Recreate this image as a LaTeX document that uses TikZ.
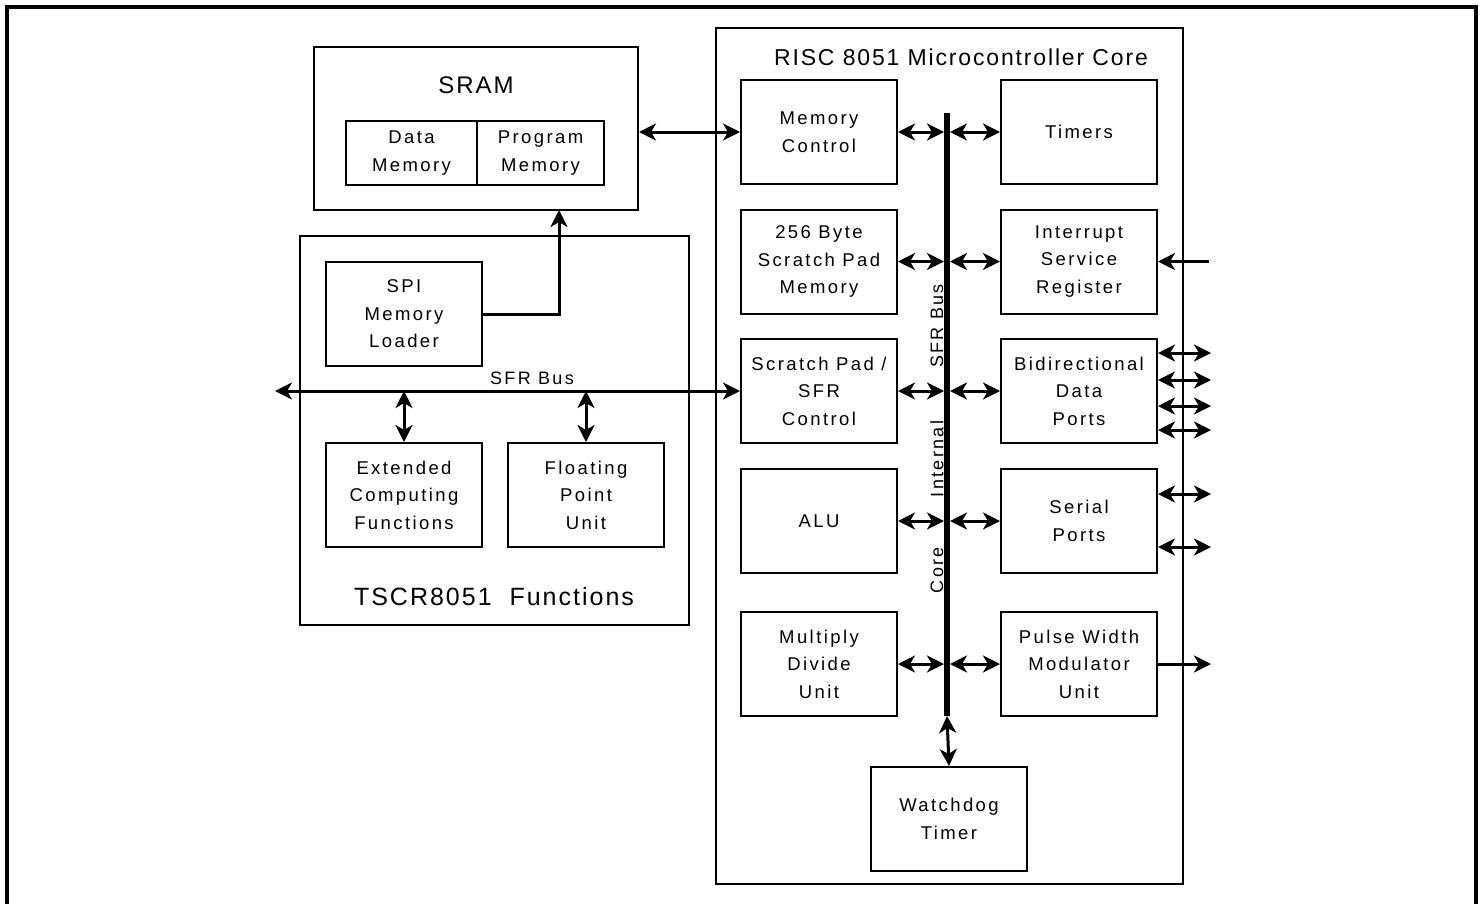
\documentclass[tikz,border=0pt]{standalone}
\usepackage{fontspec}
\usetikzlibrary{arrows.meta}
\newfontfamily\blockfont[LetterSpace=13]{Liberation Sans}
\newfontfamily\titlefont[LetterSpace=8]{Liberation Sans}

\tikzset{
    unit/.style={draw, line width=2pt, minimum width=156pt, minimum height=104pt,
        inner sep=0pt, align=center, font=\blockfont\fontsize{18.5}{27.5}\selectfont},
    label/.style={font=\blockfont\fontsize{18}{27.5}\selectfont},
    heading/.style={font=\titlefont\fontsize{23}{28}\selectfont},
    link/.style={line width=3pt, <->},
    feed/.style={line width=3pt, ->},
}

\begin{document}
\begin{tikzpicture}[x=1pt, y=-1pt, >={Stealth[length=17pt,width=17pt,inset=5pt]}]
    \useasboundingbox (0,0) rectangle (1481,903);
    % Outer frame, cut at the bottom
    \draw[line width=3.5pt] (7,930) -- (7,7) -- (1476,7) -- (1476,930);

    % SRAM block
    \node[draw, line width=2pt, minimum width=324pt, minimum height=163pt] (sram) at (476,128.5) {};
    \node[heading, font=\titlefont\fontsize{24}{28}\selectfont] (sramtitle) at (476,85) {SRAM};
    \node[unit, minimum width=131pt, minimum height=64pt] (dmem) at (411.5,153) {Data\\Memory};
    \node[unit, minimum width=127pt, minimum height=64pt] (pmem) at (540.5,153) {Program\\Memory};

    % TSCR8051 functions block
    \draw[line width=2pt] (300,236) rectangle (689,625);
    \node[heading, font=\titlefont\fontsize{25}{30}\selectfont] (tscr) at (494,597) {TSCR8051\ \ Functions};
    \node[unit] (spi) at (404,314) {SPI\\Memory\\Loader};
    \node[unit] (ext) at (404,495) {Extended\\Computing\\Functions};
    \node[unit] (fpu) at (586,495) {Floating\\Point\\Unit};

    % RISC core block
    \draw[line width=2.5pt] (716,28) rectangle (1183,884);
    \node[heading] (coretitle) at (961,57) {RISC 8051 Microcontroller Core};
    \foreach \n/\y/\ltxt/\rtxt in {
        1/132/{Memory\\Control}/{Timers},
        2/261.5/{256 Byte\\Scratch Pad\\Memory}/{Interrupt\\Service\\Register},
        3/391/{Scratch Pad /\\SFR\\Control}/{Bidirectional\\Data\\Ports},
        4/521/{ALU}/{Serial\\Ports},
        5/664/{Multiply\\Divide\\Unit}/{Pulse Width\\Modulator\\Unit}} {
        \node[unit] (L\n) at (819,\y) {\ltxt};
        \node[unit] (R\n) at (1079,\y) {\rtxt};
        % Taps onto the internal bus
        \coordinate (bl\n) at (944,\y);
        \coordinate (br\n) at (950,\y);
        \draw[link] (L\n.east) -- (bl\n);
        \draw[link] (br\n) -- (R\n.west);
    }

    % Core internal SFR bus
    \coordinate (bustop) at (947,113);
    \coordinate (busend) at (947,716);
    \draw[line width=6pt] (bustop) -- (busend);
    \node[label, rotate=90] (buscore) at (937,570) {Core};
    \node[label, rotate=90] (busint) at (937,459) {Internal};
    \node[label, rotate=90] (bussfr) at (937,326) {SFR Bus};
    \node[unit] (wdt) at (949,819) {Watchdog\\Timer};
    \draw[link] (busend) -- (wdt.north);

    % External SFR bus
    \coordinate (sfrend) at (275,391);
    \draw[link] (sfrend) -- (L3.west);
    \node[label] (sfrlabel) at (532,378) {SFR Bus};
    \coordinate (tapext) at (404,391);
    \coordinate (tapfpu) at (586,391);
    \draw[link] (tapext) -- (ext.north);
    \draw[link] (tapfpu) -- (fpu.north);

    % Memory paths
    \coordinate (sramin) at (559,210);
    \draw[feed] (spi.east) -| (sramin);
    \draw[link] (sram.east |- L1.west) -- (L1.west);

    % Pins
    \coordinate (irq) at (1209,261.5);
    \draw[feed] (irq) -- (R2.east);
    \foreach \i/\py in {1/353, 2/380, 3/406, 4/430} {
        \coordinate (pd\i) at (1211,\py);
        \draw[link] (R3.east |- pd\i) -- (pd\i);
    }
    \foreach \i/\py in {1/494, 2/547} {
        \coordinate (ps\i) at (1211,\py);
        \draw[link] (R4.east |- ps\i) -- (ps\i);
    }
    \coordinate (pwmout) at (1211,664);
    \draw[feed] (R5.east) -- (pwmout);
\end{tikzpicture}
\end{document}
